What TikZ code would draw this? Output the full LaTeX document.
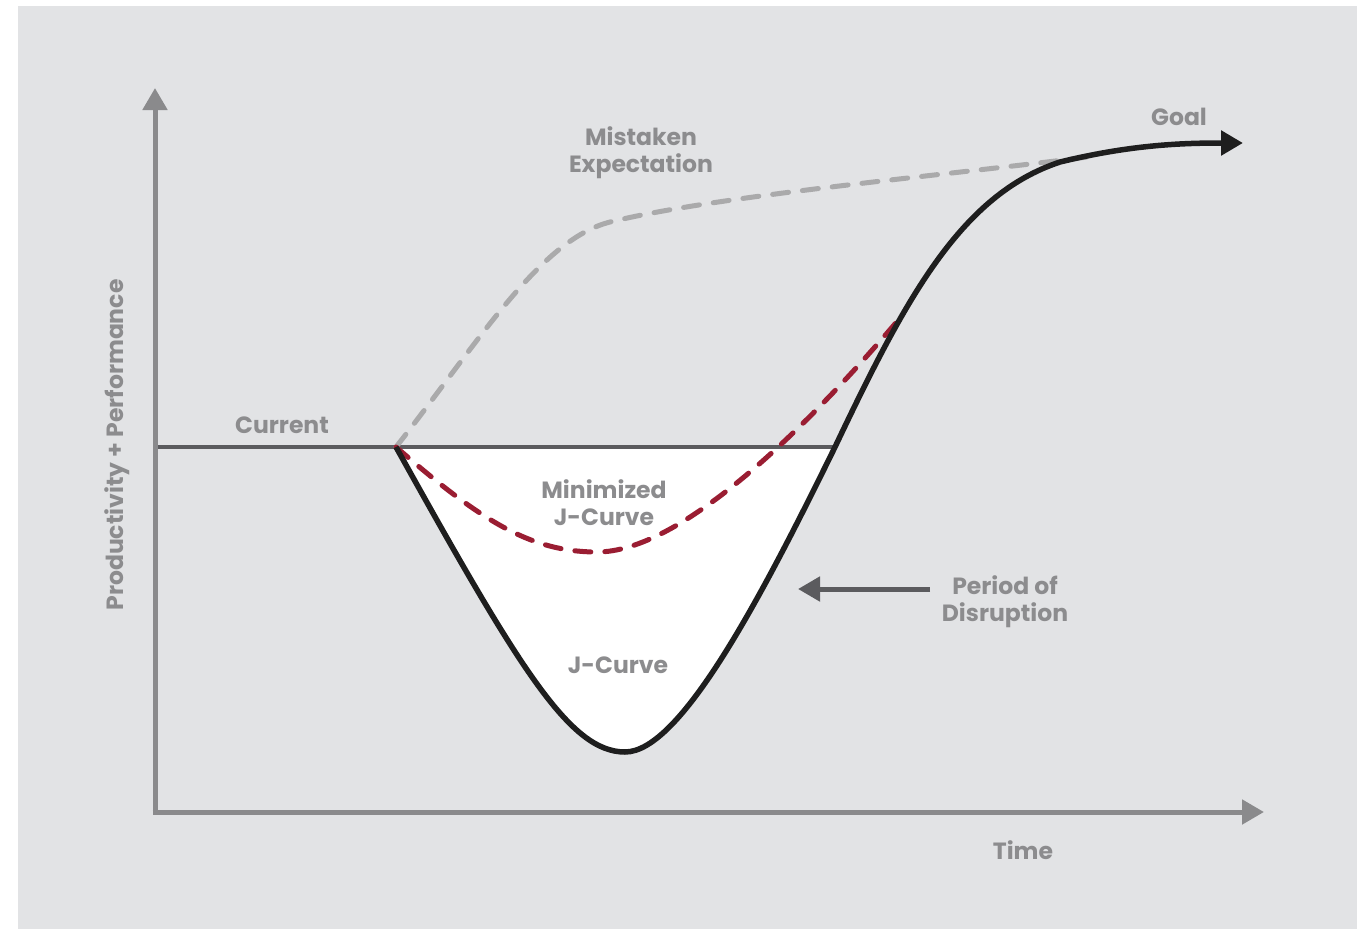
\documentclass[tikz,border=0pt]{standalone}
\usepackage{fontspec}
\setmainfont{Poppins}
\usetikzlibrary{arrows.meta,positioning}
\definecolor{bggrey}{HTML}{E2E3E5}
\definecolor{axisgrey}{HTML}{8A8A8C}
\definecolor{labelgrey}{HTML}{8C8C8E}
\definecolor{linegrey}{HTML}{5B5B5E}
\definecolor{jred}{HTML}{9A1D32}
\definecolor{dashgrey}{HTML}{AAAAAB}
\definecolor{jblack}{HTML}{1E1E1E}

\begin{document}
\begin{tikzpicture}[
x=1pt,y=-1pt,
lbl/.style={
  font=\fontsize{23.5}{27}\selectfont\bfseries,
  text=labelgrey,
  align=center,
  inner sep=0pt
},
axis/.style={
  draw=axisgrey,
  line width=5pt,
  -{Triangle[length=22pt,width=24pt]}
},
dashline/.style={
  line width=5pt,
  line cap=round,
  dash pattern=on 16pt off 14pt
}
]
\useasboundingbox (0,0) rectangle (1368,929);
\fill[bggrey] (18,6) rectangle (1357,929);

% points of the curves
\coordinate (origin) at (155,812);
\coordinate (ytop) at (155,88);
\coordinate (xend) at (1264,812);
\coordinate (left) at (155,447);
\coordinate (start) at (396,447);
\coordinate (cross) at (835,447);
\coordinate (low) at (625,752);
\coordinate (minlow) at (597,552);
\coordinate (minend) at (900,318);
\coordinate (knee) at (610,222);
\coordinate (meet) at (1095,156);
\coordinate (bend) at (1060,162);
\coordinate (goal) at (1243,143);

% white area under the current level
\fill[white] (start) .. controls (520,670) and (570,752) .. (low)
  .. controls (680,752) and (760,600) .. (cross) -- cycle;
\draw[draw=linegrey,line width=4pt] (left) -- (cross);

% axes
\draw[axis] (origin) -- (ytop);
\draw[axis] ([xshift=-2.5pt]origin) -- (xend);

% curves
\draw[dashline,draw=dashgrey] (start) .. controls (480,340) and (540,240) .. (knee)
  .. controls (720,195) and (950,175) .. (meet);
\draw[dashline,draw=jred] (start) .. controls (480,520) and (530,552) .. (minlow)
  .. controls (680,552) and (805,430) .. (minend);
\draw[draw=jblack,line width=5.5pt,line join=round,-{Triangle[length=22pt,width=24pt]}]
  (start) .. controls (520,670) and (570,752) .. (low)
  .. controls (680,752) and (760,600) .. (cross)
  .. controls (905,300) and (960,195) .. (bend)
  .. controls (1130,145) and (1180,143) .. (goal);

% labels
\node[lbl] (current) at (282,425) {Current};
\node[lbl] (mistaken) at (641,153) {Mistaken\\Expectation};
\node[lbl] (minimized) at (604,503) {Minimized\\J-Curve};
\node[lbl] (jcurve) at (618,665) {J-Curve};
\node[lbl] (goallbl) at (1179,117) {Goal};
\node[lbl] (time) at (1023,850) {Time};
\node[lbl] (period) at (1005,602) {Period of\\Disruption};
\node[lbl,rotate=90] (yaxis) at (117,445) {Productivity + Performance};

\draw[draw=linegrey,line width=5pt,-{Triangle[length=22pt,width=24pt]}]
  (930,589) coordinate (ptail) -- (798,589);
\end{tikzpicture}
\end{document}
